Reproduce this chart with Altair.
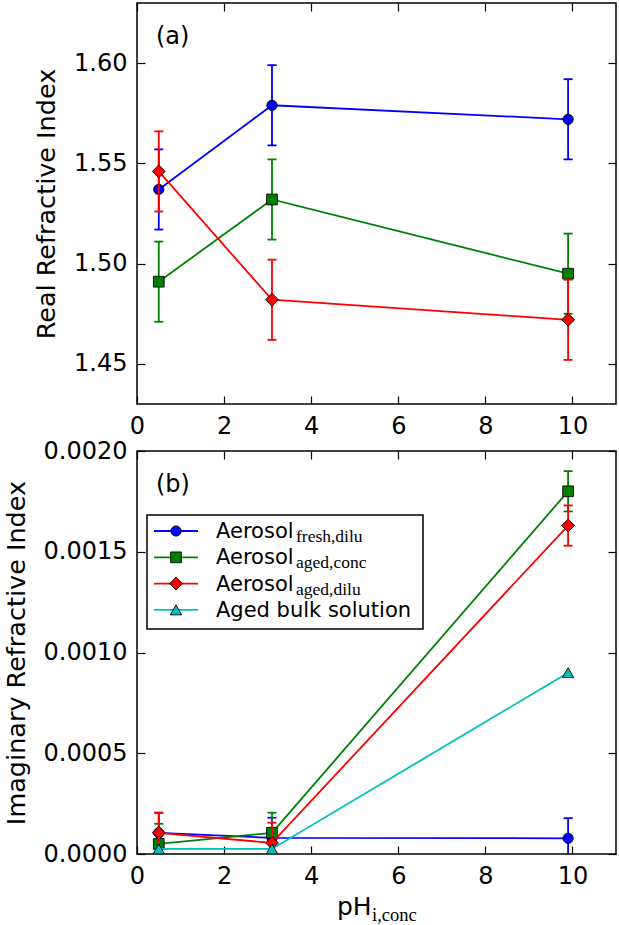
import altair as alt
import pandas as pd

# pH of the concentrated/diluted solutions at which the indices were retrieved
PH = [0.5, 3.1, 9.9]
X_TICKS = [0, 2, 4, 6, 8, 10]

SERIES = ["fresh,dilu", "aged,conc", "aged,dilu", "bulk"]
COLORS = ["#0000ff", "#008000", "#ff0000", "#00bfbf"]
SHAPES = ["circle", "square", "diamond", "triangle-up"]
MARKER_SIZES = [105, 115, 165, 130]

LEGEND_MAIN = ["Aerosol", "Aerosol", "Aerosol", "Aged bulk solution"]
LEGEND_SUB = ["fresh,dilu", "aged,conc", "aged,dilu", ""]

# (a) real part of the refractive index
REAL_FRESH_DILU = [1.537, 1.579, 1.572]
REAL_AGED_CONC = [1.491, 1.532, 1.495]
REAL_AGED_DILU = [1.546, 1.482, 1.472]
REAL_ERR = [0.02, 0.02, 0.02]
REAL_TICKS = [1.45, 1.50, 1.55, 1.60]

# (b) imaginary part of the refractive index
IMAG_FRESH_DILU = [0.000105, 0.00008, 0.000078]
IMAG_AGED_CONC = [0.00005, 0.000105, 0.0018]
IMAG_AGED_DILU = [0.000105, 0.000055, 0.00163]
IMAG_AGED_BULK = [0.000025, 0.000025, 0.0009]
IMAG_ERR = [0.0001, 0.0001, 0.0001]
IMAG_TICKS = [0.0, 0.0005, 0.0010, 0.0015, 0.0020]

PLOT_W = 479
FONT = "DejaVu Sans"
SUB_FONT = "Liberation Serif"
LW = 1.8

x_scale = alt.Scale(domain=[0, 11], nice=False, zero=False)


def make_axis(orient, values, fmt=None, title=None, labels=True):
    # inward ticks: pull the axis inside the frame by the tick length
    kw = dict(orient=orient, values=values, tickSize=8, offset=-8, domain=False,
              grid=False, labels=labels, labelPadding=10, titlePadding=14,
              title=title, labelFont=FONT, labelFontSize=24, labelColor="black",
              titleFont=FONT, titleFontSize=25.5, titleFontWeight="normal",
              titleColor="black", tickColor="black", tickWidth=1.2,
              labelFlush=False, labelOverlap=False)
    if fmt:
        kw["format"] = fmt
    return alt.Axis(**kw)


def series_layers(idx, values, errors, y_scale):
    color = COLORS[idx]
    df = pd.DataFrame({"ph": PH, "value": values})
    x_enc = alt.X("ph:Q", scale=x_scale, axis=None)
    layers = []
    if errors is not None:
        df["lo"] = [v - e for v, e in zip(values, errors)]
        df["hi"] = [v + e for v, e in zip(values, errors)]
        base = alt.Chart(df)
        layers.append(
            base.mark_rule(color=color, strokeWidth=LW, clip=True).encode(
                x=x_enc, y=alt.Y("lo:Q", scale=y_scale, axis=None), y2="hi:Q")
        )
        layers.append(
            base.transform_fold(["lo", "hi"], as_=["end", "cap"])
            .mark_tick(orient="horizontal", color=color, size=9, thickness=LW,
                       opacity=1, clip=True)
            .encode(x=x_enc, y=alt.Y("cap:Q", scale=y_scale, axis=None))
        )
    layers.append(
        alt.Chart(df).mark_line(color=color, strokeWidth=LW, clip=True).encode(
            x=x_enc, y=alt.Y("value:Q", scale=y_scale, axis=None))
    )
    layers.append(
        alt.Chart(df).mark_point(shape=SHAPES[idx], size=MARKER_SIZES[idx], filled=True,
                                 fill=color, stroke="black", strokeWidth=0.9,
                                 opacity=1, clip=True)
        .encode(x=x_enc, y=alt.Y("value:Q", scale=y_scale, axis=None))
    )
    return layers


def panel(series_values, errors, y_domain, y_ticks, y_fmt, y_title, tag, height):
    y_scale = alt.Scale(domain=y_domain, nice=False, zero=False)
    all_df = pd.DataFrame({"ph": PH * len(series_values),
                           "value": [v for vals in series_values for v in vals]})
    axes_main = alt.Chart(all_df).mark_point(opacity=0).encode(
        x=alt.X("ph:Q", scale=x_scale, axis=make_axis("bottom", X_TICKS)),
        y=alt.Y("value:Q", scale=y_scale,
                axis=make_axis("left", y_ticks, fmt=y_fmt, title=y_title)),
    )
    axes_mirror = alt.Chart(all_df).mark_point(opacity=0).encode(
        x=alt.X("ph:Q", scale=x_scale, axis=make_axis("top", X_TICKS, labels=False)),
        y=alt.Y("value:Q", scale=y_scale, axis=make_axis("right", y_ticks, labels=False)),
    )
    layers = [axes_main]
    for idx, vals in enumerate(series_values):
        layers += series_layers(idx, vals, errors[idx], y_scale)
    layers.append(axes_mirror)
    one = pd.DataFrame({"k": [0]})
    layers.append(
        alt.Chart(one).mark_text(text=tag, align="left", baseline="middle",
                                 font=FONT, fontSize=24, color="black")
        .encode(x=alt.value(19), y=alt.value(34))
    )
    return alt.layer(*layers).resolve_axis(x="independent", y="independent").properties(
        width=PLOT_W, height=height)


top = panel(
    [REAL_FRESH_DILU, REAL_AGED_CONC, REAL_AGED_DILU],
    [REAL_ERR, REAL_ERR, REAL_ERR],
    [1.43, 1.63], REAL_TICKS, ".2f", "Real Refractive Index", "(a)", 401,
)

bottom_core = panel(
    [IMAG_FRESH_DILU, IMAG_AGED_CONC, IMAG_AGED_DILU, IMAG_AGED_BULK],
    [IMAG_ERR, IMAG_ERR, IMAG_ERR, None],
    [0, 0.002], IMAG_TICKS, ".4f", "Imaginary Refractive Index", "(b)", 403,
)

# legend with subscripted labels
legend_df = pd.DataFrame({"series": SERIES, "main": LEGEND_MAIN, "sub": LEGEND_SUB,
                          "shape": SHAPES, "msize": MARKER_SIZES, "color": COLORS,
                          "row": list(range(len(SERIES)))})
one = pd.DataFrame({"k": [0]})

legend_box = alt.Chart(one).mark_rect(fill="white", stroke="black", strokeWidth=1.5).encode(
    x=alt.value(10), x2=alt.value(286), y=alt.value(64), y2=alt.value(178))
leg = alt.Chart(legend_df).transform_calculate(
    cy="80 + 26.3 * datum.row", ty="87 + 26.3 * datum.row", sy="91 + 26.3 * datum.row")
legend_lines = leg.mark_rule(strokeWidth=LW).encode(
    x=alt.value(17), x2=alt.value(61), y=alt.Y("cy:Q", scale=None),
    color=alt.Color("color:N", scale=None))
legend_marks = leg.mark_point(filled=True, stroke="black", strokeWidth=0.9, opacity=1).encode(
    x=alt.value(39), y=alt.Y("cy:Q", scale=None),
    fill=alt.Fill("color:N", scale=None),
    shape=alt.Shape("shape:N", scale=None),
    size=alt.Size("msize:Q", scale=None))
legend_main = leg.mark_text(align="left", baseline="alphabetic", font=FONT, fontSize=21,
                            color="black").encode(
    x=alt.value(79), y=alt.Y("ty:Q", scale=None), text="main:N")
legend_sub = leg.mark_text(align="left", baseline="alphabetic", font=SUB_FONT, fontSize=17.5,
                           color="black").encode(
    x=alt.value(159), y=alt.Y("sy:Q", scale=None), text="sub:N")

# x-axis title pH_{i,conc}
x_title_main = alt.Chart(one).mark_text(text="pH", align="left", baseline="alphabetic",
                                        font=FONT, fontSize=25, color="black").encode(
    x=alt.value(200), y=alt.value(464))
x_title_sub = alt.Chart(one).mark_text(text="i,conc", align="left", baseline="alphabetic",
                                       font=SUB_FONT, fontSize=18.5, color="black").encode(
    x=alt.value(235), y=alt.value(470))

bottom = alt.layer(bottom_core, legend_box, legend_lines, legend_marks, legend_main,
                   legend_sub, x_title_main, x_title_sub).properties(width=PLOT_W, height=403)

chart = alt.vconcat(top, bottom, spacing=47, bounds="flush").properties(
    padding={"left": 3, "top": 1, "right": 1, "bottom": 1},
    background="white",
).configure_view(
    stroke="black", strokeWidth=1.5
)

chart.save("out.html", embed_options={"renderer": "svg", "actions": False})
